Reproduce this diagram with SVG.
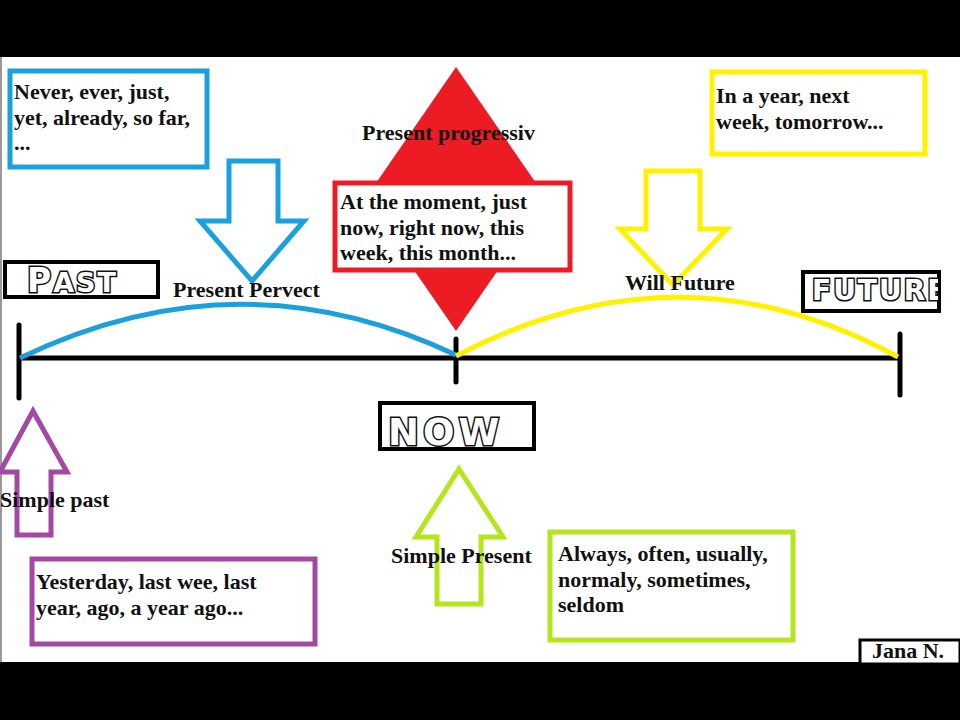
<svg xmlns="http://www.w3.org/2000/svg" width="960" height="720" viewBox="0 0 960 720">
<defs>
<style>
.t{font-family:"Liberation Serif","Times New Roman",serif;font-weight:bold;font-size:22px;fill:#111}
.deco{font-family:"DejaVu Sans","Liberation Sans",sans-serif;font-weight:bold;fill:#fff;stroke:#111;stroke-width:3;paint-order:stroke}
.lbl{fill:#fff;stroke:#000;stroke-width:4}
.bx{fill:#fff;stroke-width:5}
.arr{fill:#fff;stroke-width:5;stroke-linejoin:miter}
</style>
<clipPath id="futClip"><rect x="804" y="273" width="134" height="37"/></clipPath>
</defs>
<rect x="0" y="0" width="960" height="720" fill="#fff"/>
<rect x="0" y="0" width="960" height="57" fill="#000"/>
<rect x="0" y="662" width="960" height="58" fill="#000"/>
<line x1="1" y1="57" x2="1" y2="662" stroke="#999" stroke-width="2"/>

<g id="present-progressive">
<polygon points="456,67 547,199 456,331 365,199" fill="#ed1c24"/>
<text class="t" x="362" y="140">Present progressiv</text>
<rect class="bx" x="335" y="183" width="235" height="87" stroke="#ed1c24"/>
<text class="t" x="340" y="209">At the moment, just</text>
<text class="t" x="340" y="235">now, right now, this</text>
<text class="t" x="340" y="260">week, this month...</text>
</g>

<g id="connectors">
<line x1="18" y1="358" x2="900" y2="358" stroke="#000" stroke-width="5"/>
<line x1="19" y1="325" x2="19" y2="398" stroke="#000" stroke-width="5" stroke-linecap="round"/>
<line x1="456" y1="339" x2="456" y2="382" stroke="#000" stroke-width="5" stroke-linecap="round"/>
<line x1="900" y1="334" x2="900" y2="395" stroke="#000" stroke-width="5" stroke-linecap="round"/>
<path d="M20,358 Q240,252 456,355" fill="none" stroke="#1aa0dc" stroke-width="5"/>
<path d="M456,356 Q680,238 898,357" fill="none" stroke="#fff200" stroke-width="5"/>
<polygon class="arr" stroke="#1aa0dc" points="229,161 278,161 278,221 304,221 252,281 200,221 229,221"/>
<polygon class="arr" stroke="#fff200" points="646,171 700,171 700,229 727,229 673,285 620,229 646,229"/>
<polygon class="arr" stroke="#a349a4" points="33,411 67,472 51,472 51,535 17,535 17,472 0,472"/>
<polygon class="arr" stroke="#b5e61d" points="459,469 503,537 481,537 481,604 437,604 437,537 416,537"/>
</g>

<g id="present-perfect">
<rect class="bx" x="10" y="71" width="197" height="96" stroke="#1aa0dc"/>
<text class="t" x="14" y="99">Never, ever, just,</text>
<text class="t" x="14" y="125">yet, already, so far,</text>
<text class="t" x="14" y="150">...</text>
<text class="t" x="173" y="297">Present Pervect</text>
</g>

<g id="will-future">
<rect class="bx" x="712" y="72" width="213" height="82" stroke="#fff200"/>
<text class="t" x="716" y="103">In a year, next</text>
<text class="t" x="716" y="129">week, tomorrow...</text>
<text class="t" x="625" y="290">Will Future</text>
</g>

<g id="past">
<rect class="lbl" x="5" y="262" width="153" height="35"/>
<text class="deco" x="27" y="292"><tspan font-size="33">P</tspan><tspan font-size="27" dx="2">A</tspan><tspan font-size="27" dx="2">S</tspan><tspan font-size="27" dx="2">T</tspan></text>
</g>

<g id="future">
<rect class="lbl" x="803" y="272" width="136" height="39"/>
<text class="deco" x="812" y="300" font-size="28" letter-spacing="2" clip-path="url(#futClip)">FUTURE</text>
</g>

<g id="now">
<rect class="lbl" x="380" y="403" width="154" height="46"/>
<text class="deco" x="388" y="445" font-size="37" letter-spacing="4">NOW</text>
</g>

<g id="simple-past">
<text class="t" x="0" y="507">Simple past</text>
<rect class="bx" x="32" y="559" width="283" height="85" stroke="#a349a4"/>
<text class="t" x="36" y="589">Yesterday, last wee, last</text>
<text class="t" x="36" y="615">year, ago, a year ago...</text>
</g>

<g id="simple-present">
<text class="t" x="391" y="563">Simple Present</text>
<rect class="bx" x="550" y="532" width="243" height="108" stroke="#b5e61d"/>
<text class="t" x="558" y="561">Always, often, usually,</text>
<text class="t" x="558" y="587">normaly, sometimes,</text>
<text class="t" x="558" y="612">seldom</text>
</g>

<g id="author">
<rect x="860" y="640" width="100" height="24" fill="#fff" stroke="#000" stroke-width="3"/>
<text class="t" x="872" y="658" font-size="19">Jana N.</text>
</g>
</svg>
